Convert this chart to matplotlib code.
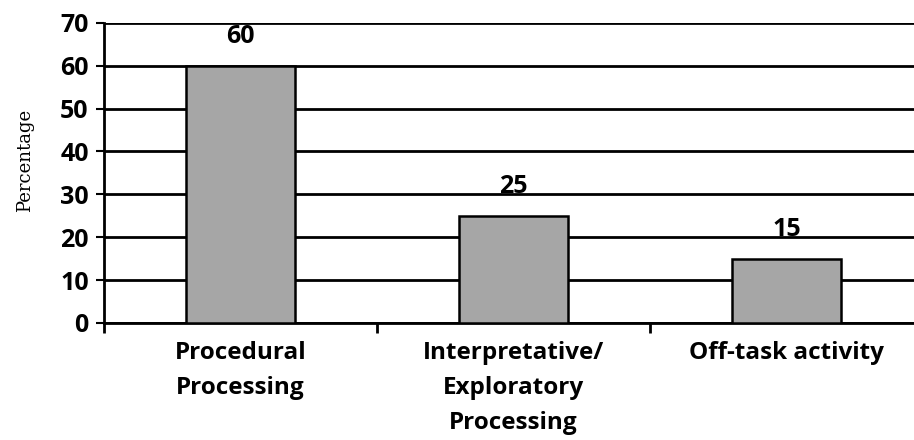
import matplotlib
matplotlib.use("Agg")
import matplotlib.pyplot as plt
from matplotlib.ticker import FixedLocator

categories = ["Procedural\nProcessing", "Interpretative/\nExploratory\nProcessing", "Off-task activity"]
values = [60, 25, 15]
y_ticks = [0, 10, 20, 30, 40, 50, 60, 70]

plt.rcParams["font.family"] = ["Open Sans", "DejaVu Sans"]

fig = plt.figure(figsize=(9.14, 4.4), dpi=100)
ax = fig.add_axes([0.1138, 0.266, 0.896, 0.682])

x = list(range(len(categories)))
ax.set_axisbelow(True)
ax.yaxis.grid(True, color="black", linewidth=2.0)
ax.bar(x, values, width=0.4, color="#a6a6a6", edgecolor="black", linewidth=1.8, zorder=3)

for xi, v in zip(x, values):
    ax.annotate(str(v), (xi, v), xytext=(0, 21), textcoords="offset points",
                ha="center", va="center", fontsize=18, fontweight="bold", zorder=4)

ax.set_xlim(-0.5, 2.5)
ax.set_ylim(0, 70)
ax.set_yticks(y_ticks)
ax.set_yticklabels([str(t) for t in y_ticks], fontsize=18, fontweight="bold")

# category boundaries carry the tick marks; labels sit at category centres
ax.xaxis.set_major_locator(FixedLocator([-0.5, 0.5, 1.5]))
ax.xaxis.set_major_formatter(plt.NullFormatter())
ax.xaxis.set_minor_locator(FixedLocator(x))
ax.set_xticklabels(categories, minor=True, fontsize=17.5, fontweight="bold", linespacing=1.62)
ax.tick_params(axis="x", which="major", length=7, width=2, direction="out")
ax.tick_params(axis="x", which="minor", length=0, pad=13)
ax.tick_params(axis="y", length=6, width=1.5, pad=5)

for side in ("top", "right"):
    ax.spines[side].set_visible(False)
for side in ("left", "bottom"):
    ax.spines[side].set_linewidth(2)

ax.set_ylabel("Percentage", family=["DejaVu Serif"], fontsize=13)
ax.yaxis.set_label_coords(-0.086, 0.54)

fig.savefig("out.png", dpi=100)
